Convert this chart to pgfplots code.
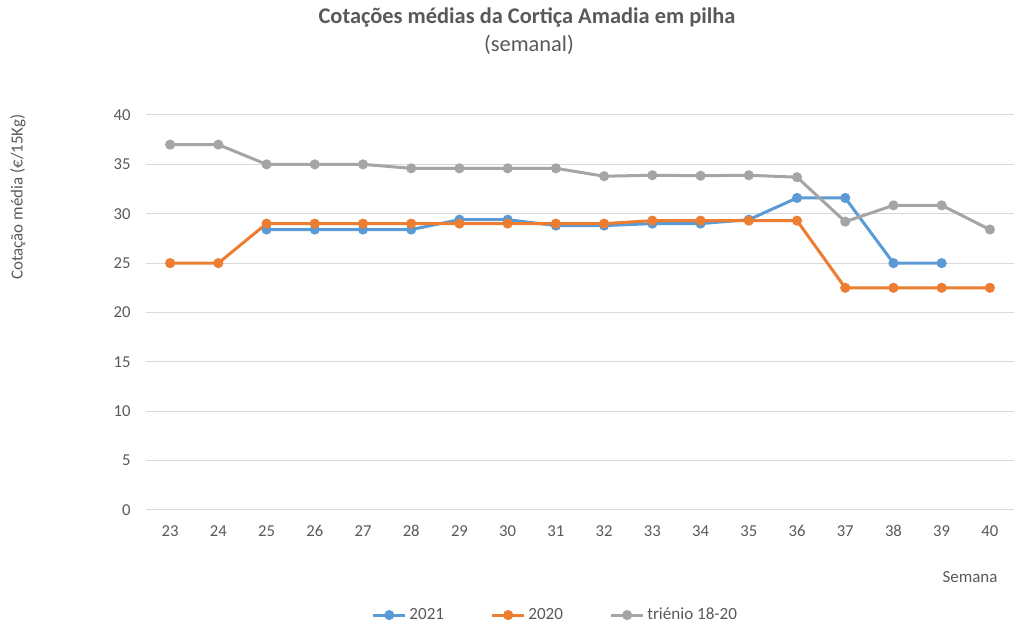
\documentclass[border=0pt]{standalone}
\usepackage{pgfplots}
\pgfplotsset{compat=1.18}
\usepackage{fontspec}
\setmainfont{Carlito}
\definecolor{cblue}{HTML}{5B9BD5}
\definecolor{corange}{HTML}{ED7D31}
\definecolor{cgray}{HTML}{A5A5A5}
\definecolor{ctext}{HTML}{595959}
\definecolor{cgrid}{HTML}{D9D9D9}
\begin{document}
\begin{tikzpicture}[x=0.75pt,y=0.75pt]
\useasboundingbox (0,0) rectangle (1016,624);
\begin{axis}[
  at={(109.5pt,85.5pt)}, anchor=south west,
  scale only axis, width=651pt, height=296.25pt,
  xmin=22.5, xmax=40.5, ymin=0, ymax=40,
  xtick={23,...,40}, ytick={0,5,...,40},
  ymajorgrids, grid style={cgrid, line width=0.75pt},
  axis line style={draw=none},
  major tick length=0pt,
  tick label style={font=\fontsize{12.5}{14}\selectfont, text=ctext},
  /pgf/number format/assume math mode=true,
  xticklabel style={yshift=-8pt},
  yticklabel style={xshift=-8pt},
  legend style={at={(axis description cs:0.472,-0.266)}, anchor=center, draw=none, fill=none,
    legend columns=3, font=\fontsize{12.8}{14}\selectfont, text=ctext,
    /tikz/every even column/.append style={column sep=33pt}},
  legend image code/.code={\draw[#1, mark repeat=2, mark phase=2] plot coordinates {(0pt,0pt)(12pt,0pt)(24pt,0pt)};},
  every axis plot/.append style={line width=2.25pt, mark=*, mark size=2.6pt},
  clip=false,
]
\draw[cgrid, line width=0.75pt] (axis cs:22.5,0) -- (axis cs:40.5,0);
\addplot[cblue, mark options={fill=cblue}] coordinates {
(25,28.4)(26,28.4)(27,28.4)(28,28.4)(29,29.4)(30,29.4)(31,28.8)(32,28.8)(33,29.0)(34,29.0)(35,29.4)(36,31.6)(37,31.6)(38,25)(39,25)};
\addplot[corange, mark options={fill=corange}] coordinates {
(23,25)(24,25)(25,29)(26,29)(27,29)(28,29)(29,29)(30,29)(31,29)(32,29)(33,29.3)(34,29.3)(35,29.3)(36,29.3)(37,22.5)(38,22.5)(39,22.5)(40,22.5)};
\addplot[cgray, mark options={fill=cgray}] coordinates {
(23,37)(24,37)(25,35)(26,35)(27,35)(28,34.6)(29,34.6)(30,34.6)(31,34.6)(32,33.8)(33,33.9)(34,33.85)(35,33.9)(36,33.7)(37,29.2)(38,30.85)(39,30.85)(40,28.4)};
\legend{2021,2020,triénio 18-20}
\end{axis}
\node[text=ctext, font=\bfseries\fontsize{16.8}{19}\selectfont] at (527,606) {Cotações médias da Cortiça Amadia em pilha};
\node[text=ctext, font=\fontsize{16.8}{19}\selectfont] at (529,579) {(semanal)};
\node[text=ctext, font=\fontsize{12.7}{14}\selectfont, rotate=90] at (18,427) {Cotação média (€/15Kg)};
\node[text=ctext, font=\fontsize{12.7}{14}\selectfont] at (970,47) {Semana};
\end{tikzpicture}
\end{document}
